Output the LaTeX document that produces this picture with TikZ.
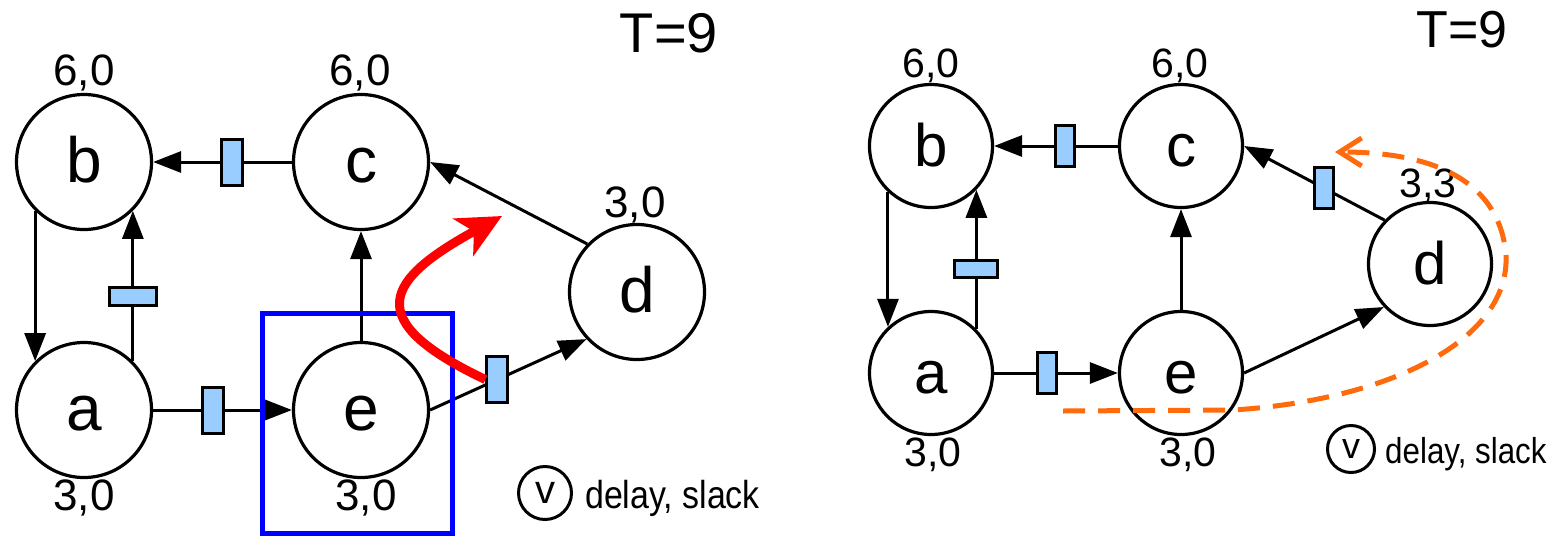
\documentclass[tikz,border=0pt]{standalone}
\usepackage{fontspec}
\setmainfont{Liberation Sans}
\newfontfamily\keyfont{Liberation Sans}[FakeStretch=0.87]
\definecolor{regfill}{RGB}{153,204,255}
\definecolor{arrowred}{RGB}{255,0,0}
\definecolor{boxblue}{RGB}{0,0,255}
\definecolor{retimed}{RGB}{255,106,13}
\usetikzlibrary{arrows.meta,positioning}

\begin{document}
\begin{tikzpicture}[x=1pt,y=-1pt,
    vtx/.style={circle,draw,line width=3.2pt,inner sep=0pt,text height=40pt,text depth=0pt},
    key/.style={circle,draw,line width=3pt,inner sep=0pt},
    edge/.style={line width=3pt,-{Triangle[length=28pt,width=21pt]}},
    reg/.style={draw,fill=regfill,line width=3pt,inner sep=0pt,pos=0.43},
    wgt/.style={anchor=base,inner sep=0pt}]
  \useasboundingbox (0,0) rectangle (1549,536);

  % left: before the move
  \begin{scope}[vtx/.append style={minimum size=135pt,font=\fontsize{64}{64}\selectfont},
      wgt/.append style={font=\fontsize{44}{44}\selectfont},
      regv/.style={reg,minimum width=21pt,minimum height=46pt},
      regh/.style={reg,minimum width=47pt,minimum height=18pt}]
    \node[vtx] (b1) at (84,162) {b};
    \node[vtx] (c1) at (361,162) {c};
    \node[vtx] (a1) at (84,410) {a};
    \node[vtx] (e1) at (361,410) {e};
    \node[vtx] (d1) at (637,292) {d};
    \node[wgt] (wb1) at (84,85) {6,0};
    \node[wgt] (wc1) at (360,85) {6,0};
    \node[wgt] (wd1) at (635,217) {3,0};
    \node[wgt] (wa1) at (84,510) {3,0};
    \node[wgt] (we1) at (366,510) {3,0};
    \node[wgt,font=\fontsize{56}{56}\selectfont] (t1) at (669,52) {T=9};
    \draw[edge] (c1) -- node[regv]{} (b1);
    \draw[edge] (b1.225) -- (a1.135);
    \draw[edge] (a1.45) -- node[regh]{} (b1.315);
    \draw[edge] (a1) -- node[regv]{} (e1);
    \draw[edge] (e1) -- (c1);
    \draw[edge] (d1.136) -- (c1.east);
    \draw[edge] (e1.east) -- node[regv] (r1) {} (d1.223);
    % node e picked, register pushed forward
    \draw[boxblue,line width=5pt] (262.5,313) rectangle (452.5,533.5);
    \coordinate (aim1) at (502,216);
    \draw[arrowred,line width=9pt,-{Stealth[length=44pt,width=42pt,inset=12pt]}]
      (r1.west) .. controls (360,320) and (385,280) .. (aim1);
    \node[key,minimum size=53pt,font=\fontsize{40}{40}\selectfont] (k1) at (545,493) {v};
    \node[wgt,anchor=base west,font=\keyfont\fontsize{39}{39}\selectfont] (kt1) at (585,508) {delay, slack};
  \end{scope}

  % right: after retiming
  \begin{scope}[vtx/.append style={minimum size=123pt,font=\fontsize{60}{60}\selectfont},
      wgt/.append style={font=\fontsize{41}{41}\selectfont},
      regv/.style={reg,minimum width=19pt,minimum height=41pt},
      regh/.style={reg,minimum width=43pt,minimum height=17pt}]
    \node[vtx] (b2) at (931,146) {b};
    \node[vtx] (c2) at (1181,146) {c};
    \node[vtx] (a2) at (931,373) {a};
    \node[vtx] (e2) at (1181,373) {e};
    \node[vtx] (d2) at (1430,264) {d};
    \node[wgt] (wb2) at (931,77) {6,0};
    \node[wgt] (wc2) at (1180,77) {6,0};
    \node[wgt] (wd2) at (1428,197) {3,3};
    \node[wgt] (wa2) at (933,466) {3,0};
    \node[wgt] (we2) at (1188,466) {3,0};
    \node[wgt,font=\fontsize{52}{52}\selectfont] (t2) at (1462,47) {T=9};
    \draw[edge] (c2) -- node[regv]{} (b2);
    \draw[edge] (b2.227) -- (a2.133);
    \draw[edge] (a2.44) -- node[regh]{} (b2.316);
    \draw[edge] (a2) -- node[regv]{} (e2);
    \draw[edge] (e2) -- (c2);
    \draw[edge] (d2.136) -- node[regv]{} (c2.east);
    \draw[edge] (e2.east) -- (d2.223);
    % register moved round d
    \coordinate (from2) at (1063,411);
    \coordinate (aim2) at (1335,152);
    \draw[retimed,line width=5pt,dash pattern=on 22pt off 13pt,-{Straight Barb[length=22pt,width=28pt]}]
      (from2) -- (1233,410) .. controls (1390,400) and (1510,340) .. (1506,255)
      .. controls (1500,185) and (1440,152) .. (aim2);
    \node[key,minimum size=47pt,font=\fontsize{36}{36}\selectfont] (k2) at (1351,449) {v};
    \node[wgt,anchor=base west,font=\keyfont\fontsize{36}{36}\selectfont] (kt2) at (1385,463) {delay, slack};
  \end{scope}
\end{tikzpicture}
\end{document}
